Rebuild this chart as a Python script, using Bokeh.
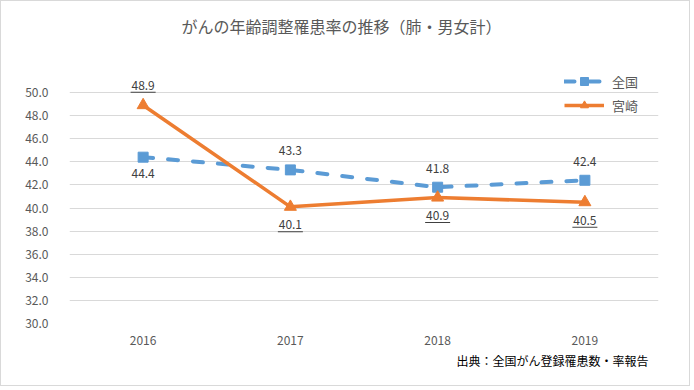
from bokeh.plotting import figure
from bokeh.models import (Range1d, FactorRange, FixedTicker, PrintfTickFormatter,
                          Legend, LegendItem, Title, ColumnDataSource)
from bokeh.embed import file_html
from bokeh.resources import INLINE
from bokeh.core.properties import value

# ---- data ----
years = ["2016", "2017", "2018", "2019"]
zenkoku = [44.4, 43.3, 41.8, 42.4]
miyazaki = [48.9, 40.1, 40.9, 40.5]
series_names = ["全国", "宮崎"]
y_ticks = [30, 32, 34, 36, 38, 40, 42, 44, 46, 48, 50]
title_text = "がんの年齢調整罹患率の推移（肺・男女計）"
source_text = "出典：全国がん登録罹患数・率報告"

# label placement (style)
zenkoku_label_side = ["below", "above", "above", "above"]
miyazaki_label_side = ["above", "below", "below", "below"]

FONT = "Noto Sans CJK JP"
BLUE = "#5B9BD5"
ORANGE = "#ED7D31"
GRAY = "#595959"
LABEL = "#404040"

W, H = 690, 386
BL, BR, BT, BB = 68, 33, 60, 64
GRID_TOP_PX = 91          # pixel row of the highest gridline
FRAME_H = H - BT - BB
Y_MIN, Y_TOP_TICK = y_ticks[0], y_ticks[-1]
PX_PER_UNIT = (H - BB - GRID_TOP_PX) / (Y_TOP_TICK - Y_MIN)
Y_MAX = Y_MIN + FRAME_H / PX_PER_UNIT   # extra room above the top gridline

p = figure(width=W, height=H, output_backend="svg", toolbar_location=None,
           x_range=FactorRange(*years), y_range=Range1d(Y_MIN, Y_MAX),
           min_border_left=BL, min_border_right=BR, min_border_top=BT,
           min_border_bottom=BB)
p.styles = {"border": "1px solid #d9d9d9"}
p.outline_line_color = None
p.background_fill_color = "white"
p.border_fill_color = "white"

p.xgrid.grid_line_color = None
p.ygrid.grid_line_color = "#d9d9d9"
p.ygrid.grid_line_width = 1

p.yaxis.ticker = FixedTicker(ticks=y_ticks)
p.yaxis.formatter = PrintfTickFormatter(format="%.1f")
for ax in (p.xaxis, p.yaxis):
    ax.axis_line_color = None
    ax.major_tick_line_color = None
    ax.minor_tick_line_color = None
    ax.major_label_text_font = FONT
    ax.major_label_text_font_size = "12px"
    ax.major_label_text_color = GRAY
p.yaxis.major_label_standoff = 15
p.xaxis.major_label_standoff = 6

# series
src_z = ColumnDataSource(dict(x=years, y=zenkoku))
src_m = ColumnDataSource(dict(x=years, y=miyazaki))

lz = p.line("x", "y", source=src_z, line_color=BLUE, line_width=4,
            line_dash="10 15", line_cap="round")
mz = p.scatter("x", "y", source=src_z, marker="square", size=10,
               fill_color=BLUE, line_color=BLUE)
lm = p.line("x", "y", source=src_m, line_color=ORANGE, line_width=3.5,
            line_join="round")
mm = p.scatter("x", "y", source=src_m, marker="triangle", size=12,
               fill_color=ORANGE, line_color=ORANGE)

# data labels
def offsets(sides, above, below):
    return [above if s == "above" else below for s in sides]

z_off = offsets(zenkoku_label_side, -19, 16)
m_off = offsets(miyazaki_label_side, -20, 18)

src_zl = ColumnDataSource(dict(x=years, y=zenkoku,
                               t=[f"{v:.1f}" for v in zenkoku], off=z_off))
src_ml = ColumnDataSource(dict(x=years, y=miyazaki,
                               t=[f"{v:.1f}" for v in miyazaki], off=m_off,
                               uy=[v - (o + 7) / PX_PER_UNIT for v, o in zip(miyazaki, m_off)]))

p.text("x", "y", text="t", source=src_zl, y_offset="off",
       text_font=value(FONT), text_font_size="12px", text_color=LABEL,
       text_align="center", text_baseline="middle")
p.text("x", "y", text="t", source=src_ml, y_offset="off",
       text_font=value(FONT), text_font_size="12px", text_color=LABEL,
       text_align="center", text_baseline="middle")
# underline of the 宮崎 labels
p.rect("x", "uy", source=src_ml, width=25, height=1, width_units="screen",
       height_units="screen", fill_color=LABEL, line_color=None)

# legend
legend = Legend(items=[LegendItem(label=series_names[0], renderers=[lz, mz]),
                       LegendItem(label=series_names[1], renderers=[lm, mm])],
                location=(495, 208), orientation="vertical",
                background_fill_alpha=0, border_line_color=None,
                padding=0, margin=0, spacing=4,
                glyph_width=40, glyph_height=20, label_height=20,
                label_standoff=8,
                label_text_font=FONT, label_text_font_size="13px",
                label_text_color=GRAY)
p.add_layout(legend)

# title & source (an empty spacer title keeps the main title higher)
p.add_layout(Title(text=" ", text_font_size="20px", standoff=0), "above")
p.add_layout(Title(text=title_text, align="left", offset=112,
                   text_font=FONT,
                   text_font_size="16px", text_font_style="normal",
                   text_color=GRAY, standoff=0), "above")
p.add_layout(Title(text=source_text, align="left", offset=387, text_font=FONT,
                   text_font_size="12px", text_font_style="normal",
                   text_color="#000000", standoff=5), "below")

open("out.html", "w").write(file_html(p, INLINE))
